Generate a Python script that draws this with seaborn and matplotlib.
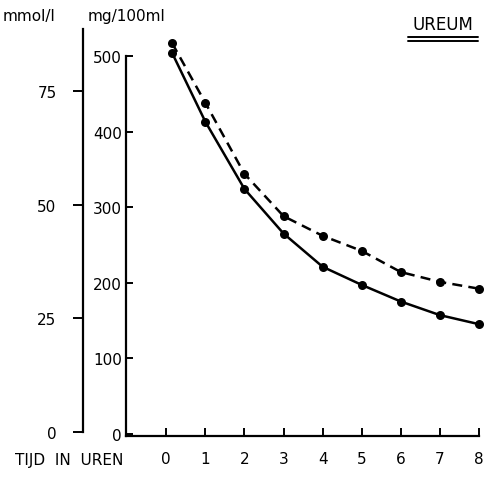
import matplotlib
matplotlib.use("Agg")
import matplotlib.pyplot as plt
import seaborn as sns
from matplotlib.lines import Line2D

# data
hours = [0.15, 1, 2, 3, 4, 5, 6, 7, 8]
ureum_dashed = [517, 438, 344, 288, 262, 242, 214, 201, 192]   # mg/100 ml
ureum_solid = [504, 413, 324, 265, 221, 197, 175, 157, 145]    # mg/100 ml
mg_ticks = [0, 100, 200, 300, 400, 500]
mmol_ticks = [0, 25, 50, 75]
hour_ticks = [0, 1, 2, 3, 4, 5, 6, 7, 8]

sns.set_style("ticks")
plt.rcParams['font.family'] = ['DejaVu Sans']
plt.rcParams.update({"text.color": "black", "axes.edgecolor": "black",
                     "xtick.color": "black", "ytick.color": "black",
                     "axes.labelcolor": "black"})

W, H = 486, 481


def rect(x0, y0, x1, y1):
    return [x0 / W, 1 - y1 / H, (x1 - x0) / W, (y1 - y0) / H]


fig = plt.figure(figsize=(W / 100, H / 100), dpi=100)

ax = fig.add_axes(rect(126, 57, 479, 437))
sns.lineplot(x=hours, y=ureum_dashed, ax=ax, color="black", marker="o",
             markersize=6.5, markeredgewidth=0, linewidth=1.8,
             linestyle=(0, (4, 2.5)), clip_on=False)
sns.lineplot(x=hours, y=ureum_solid, ax=ax, color="black", marker="o",
             markersize=6.5, markeredgewidth=0, linewidth=1.8, clip_on=False)
ax.set_xlim(-1.03, 8)
ax.set_ylim(-3, 500)
ax.set_xticks(hour_ticks)
ax.set_yticks(mg_ticks)
for s in ["top", "right"]:
    ax.spines[s].set_visible(False)
for s in ["left", "bottom"]:
    ax.spines[s].set_linewidth(1.6)
ax.tick_params(axis="y", direction="in", length=5, width=1.4, pad=3, labelsize=11)
ax.tick_params(axis="x", direction="in", length=6, width=1.4, pad=11, labelsize=11)

# outer mmol/l axis
ax2 = fig.add_axes(rect(83, 30, 90, 433))
ax2.set_ylim(0, (433 - 30) / 4.547)
ax2.set_xticks([])
ax2.set_yticks(mmol_ticks)
ax2.patch.set_visible(False)
for s in ["top", "right", "bottom"]:
    ax2.spines[s].set_visible(False)
ax2.spines["left"].set_linewidth(1.6)
ax2.tick_params(axis="y", direction="out", length=7, width=1.4, pad=12, labelsize=11)

fig.text(3 / W, 1 - 17 / H, "mmol/l", fontsize=11, va="center", ha="left")
fig.text(88 / W, 1 - 17 / H, "mg/100ml", fontsize=11, va="center", ha="left")
fig.text(15 / W, 1 - 460 / H, "TIJD  IN  UREN", fontsize=11, va="center", ha="left")
fig.text(443 / W, 1 - 25 / H, "UREUM", fontsize=12, va="center", ha="center")
for yy in [38, 42]:
    fig.add_artist(Line2D([408 / W, 478 / W], [1 - yy / H, 1 - yy / H],
                          color="black", linewidth=1.4, transform=fig.transFigure))

fig.savefig("out.png", dpi=100)
